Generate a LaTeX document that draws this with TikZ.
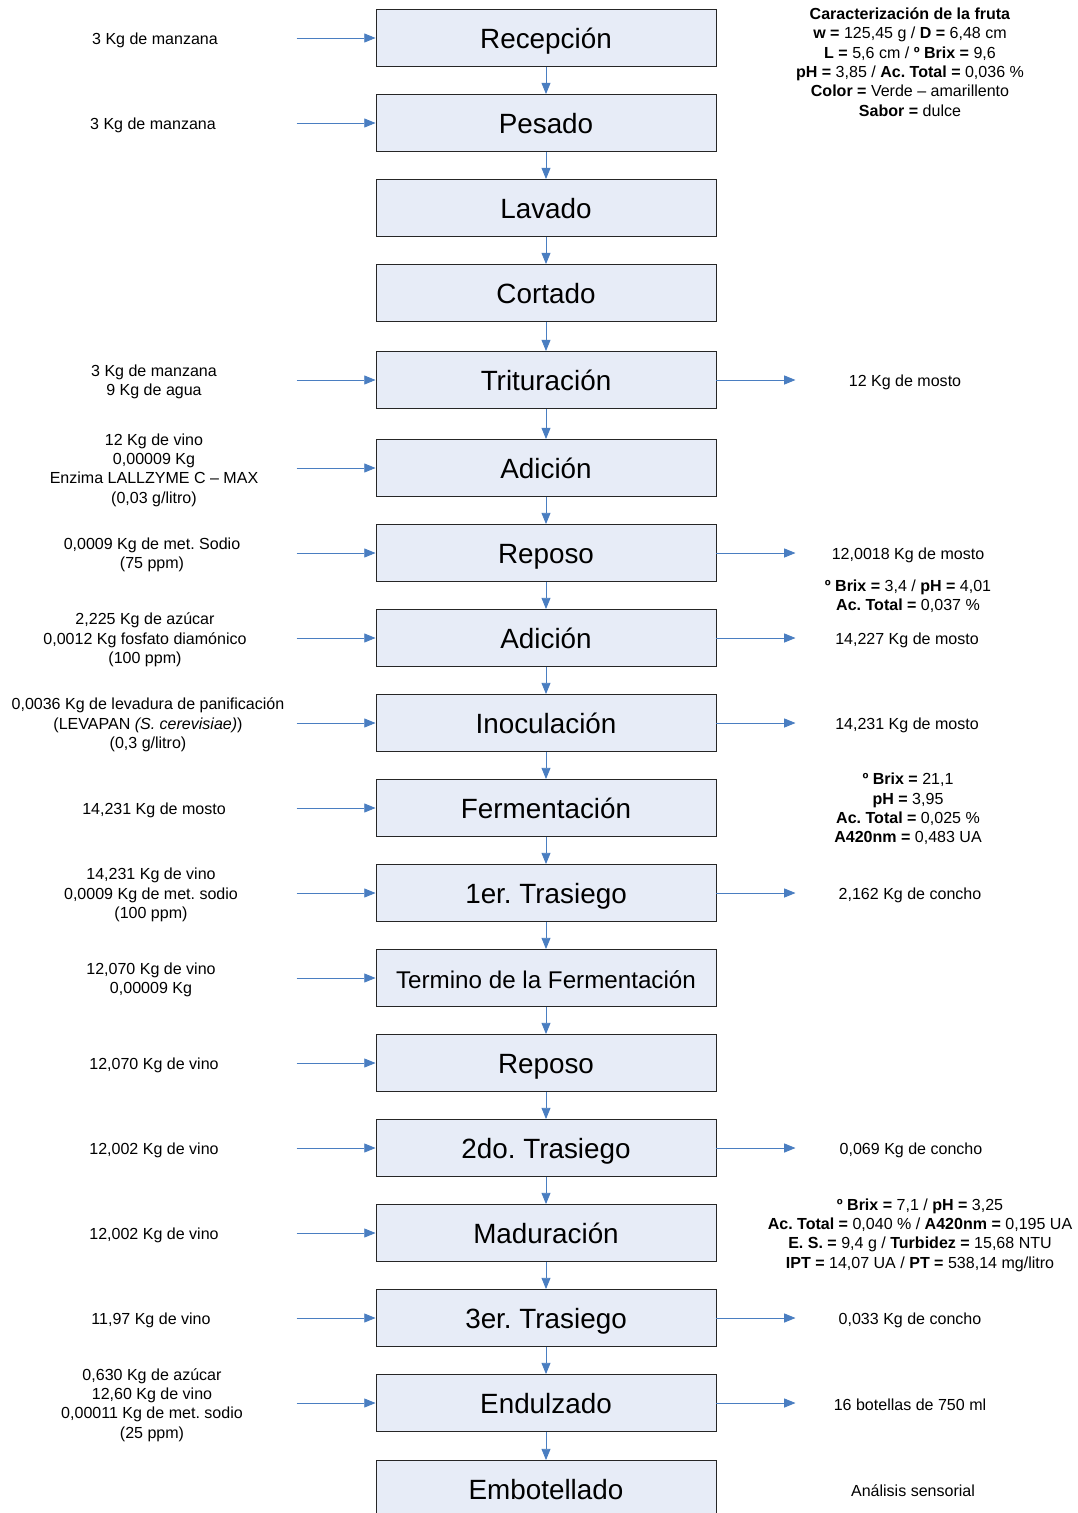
\documentclass[tikz,border=0pt]{standalone}
\usepackage{fontspec}
\setmainfont{Liberation Sans}
\usetikzlibrary{arrows.meta}
\frenchspacing

\definecolor{boxfill}{RGB}{231,236,247}
\definecolor{flowblue}{RGB}{74,126,193}

\begin{document}
\begin{tikzpicture}[
    x=0.025cm, y=-0.025cm,
    every node/.style={text=black},
    stepbox/.style={draw=black!85, line width=0.6pt, fill=boxfill,
        minimum width=8.5cm, minimum height=1.425cm, inner sep=0pt,
        text height=16.6pt, text depth=1.9pt,
        font=\fontsize{19.8}{23}\selectfont},
    info/.style={align=center, inner sep=0pt, yshift=-1.4pt,
        font=\fontsize{11.4}{13.75}\selectfont},
    flow/.style={draw=flowblue, line width=0.6pt, -{Triangle[length=8pt, width=6.4pt]}}
]
    \useasboundingbox (0,0) rectangle (1078,1513);

    % ==========================
    % CENTRE: the process steps
    % ==========================
    \foreach \i/\y/\txt in {
        1/38/{Recepción},
        2/123/{Pesado},
        3/208/{Lavado},
        4/293/{Cortado},
        5/380/{Trituración},
        6/468/{Adición},
        7/553/{Reposo},
        8/638/{Adición},
        9/723/{Inoculación},
        10/808/{Fermentación},
        11/893/{1er. Trasiego},
        12/978/{\fontsize{17.2}{20}\selectfont Termino de la Fermentación},
        13/1063/{Reposo},
        14/1148/{2do. Trasiego},
        15/1233/{Maduración},
        16/1318/{3er. Trasiego},
        17/1403/{Endulzado},
        18/1489/{Embotellado}}
    {
        \node[stepbox] (S\i) at (546,\y) {\txt};
    }

    % step to step
    \foreach \i [count=\j from 2] in {1,...,17}
        \draw[flow] (S\i.south) -- (S\j.north);

    % ==========================
    % LEFT: what goes in
    % ==========================
    \foreach \i/\x/\txt in {
        1/155/{3 Kg de manzana},
        2/153/{3 Kg de manzana},
        5/154/{3 Kg de manzana\\9 Kg de agua},
        6/154/{12 Kg de vino\\0,00009 Kg\\Enzima LALLZYME C – MAX\\(0,03 g/litro)},
        7/152/{0,0009 Kg de met. Sodio\\(75 ppm)},
        8/145/{2,225 Kg de azúcar\\0,0012 Kg fosfato diamónico\\(100 ppm)},
        9/148/{0,0036 Kg de levadura de panificación\\(LEVAPAN \textit{(S. cerevisiae)})\\(0,3 g/litro)},
        10/154/{14,231 Kg de mosto},
        11/151/{14,231 Kg de vino\\0,0009 Kg de met. sodio\\(100 ppm)},
        12/151/{12,070 Kg de vino\\0,00009 Kg},
        13/154/{12,070 Kg de vino},
        14/154/{12,002 Kg de vino},
        15/154/{12,002 Kg de vino},
        16/151/{11,97 Kg de vino},
        17/152/{0,630 Kg de azúcar\\12,60 Kg de vino\\0,00011 Kg de met. sodio\\(25 ppm)}}
    {
        \node[info] (in\i) at (\x,0 |- S\i) {\txt};
        \path (S\i.west) ++(-79,0) coordinate (a\i);
        \draw[flow] (a\i) -- (S\i.west);
    }

    % ==========================
    % RIGHT: what comes out
    % ==========================
    \foreach \i/\x/\txt in {
        5/905/{12 Kg de mosto},
        7/908/{12,0018 Kg de mosto},
        8/907/{14,227 Kg de mosto},
        9/907/{14,231 Kg de mosto},
        11/910/{2,162 Kg de concho},
        14/911/{0,069 Kg de concho},
        16/910/{0,033 Kg de concho},
        17/910/{16 botellas de 750 ml}}
    {
        \path (S\i.east) ++(79,0) coordinate (b\i);
        \draw[flow] (S\i.east) -- (b\i);
        \node[info] (out\i) at (\x,0 |- S\i) {\txt};
    }

    % analysis notes (no arrows)
    \node[info] (fruta) at (910,60) {\textbf{Caracterización de la fruta}\\
        \textbf{w =} 125,45 g / \textbf{D =} 6,48 cm\\
        \textbf{L =} 5,6 cm / \textbf{º Brix =} 9,6\\
        \textbf{pH =} 3,85 / \textbf{Ac. Total =} 0,036 \%\\
        \textbf{Color =} Verde – amarillento\\
        \textbf{Sabor =} dulce};
    \node[info] (reposo) at (908,594) {\textbf{º Brix =} 3,4 / \textbf{pH =} 4,01\\
        \textbf{Ac. Total =} 0,037 \%};
    \node[info] (ferm) at (908,807) {\textbf{º Brix =} 21,1\\
        \textbf{pH =} 3,95\\
        \textbf{Ac. Total =} 0,025 \%\\
        \textbf{A420nm =} 0,483 UA};
    \node[info] (madur) at (920,1233) {\textbf{º Brix =} 7,1 / \textbf{pH =} 3,25\\
        \textbf{Ac. Total =} 0,040 \% / \textbf{A420nm =} 0,195 UA\\
        \textbf{E. S. =} 9,4 g / \textbf{Turbidez =} 15,68 NTU\\
        \textbf{IPT =} 14,07 UA / \textbf{PT =} 538,14 mg/litro};
    \node[info] (sens) at (913,1489) {Análisis sensorial};

\end{tikzpicture}
\end{document}
